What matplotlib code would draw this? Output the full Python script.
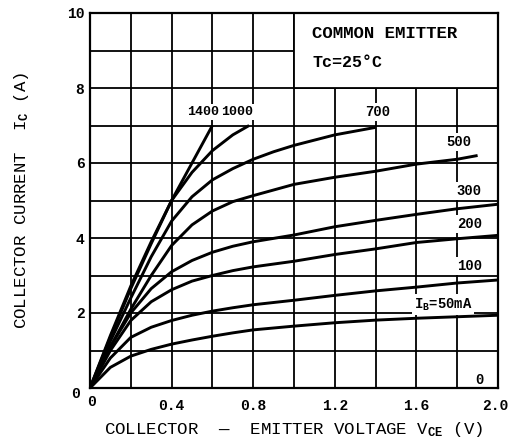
import matplotlib
matplotlib.use("Agg")
import matplotlib.pyplot as plt
import matplotlib.transforms as mtransforms
from matplotlib.patches import Rectangle

# ---- data ----
v_1400 = [0, 0.1, 0.2, 0.3, 0.4, 0.5, 0.6]
ic_1400 = [0, 1.35, 2.65, 3.85, 5.0, 6.0, 7.0]

v_1000 = [0, 0.1, 0.2, 0.3, 0.4, 0.5, 0.6, 0.7, 0.78]
ic_1000 = [0, 1.4, 2.72, 3.9, 5.0, 5.75, 6.33, 6.75, 7.0]

v_700 = [0, 0.1, 0.2, 0.3, 0.4, 0.5, 0.6, 0.7, 0.8, 0.9, 1.0, 1.2, 1.4]
ic_700 = [0, 1.25, 2.4, 3.5, 4.45, 5.1, 5.55, 5.85, 6.1, 6.3, 6.47, 6.75, 6.95]

v_500 = [0, 0.1, 0.2, 0.3, 0.4, 0.5, 0.6, 0.7, 0.8, 1.0, 1.2, 1.4, 1.6, 1.8, 1.9]
ic_500 = [0, 1.1, 2.1, 3.0, 3.8, 4.35, 4.72, 4.97, 5.13, 5.43, 5.62, 5.78, 5.97, 6.1, 6.2]

v_full = [0, 0.1, 0.2, 0.3, 0.4, 0.5, 0.6, 0.7, 0.8, 1.0, 1.2, 1.4, 1.6, 1.8, 2.0]
ic_300 = [0, 1.1, 2.0, 2.65, 3.1, 3.4, 3.62, 3.78, 3.9, 4.08, 4.3, 4.47, 4.63, 4.78, 4.9]
ic_200 = [0, 1.0, 1.8, 2.3, 2.62, 2.85, 3.0, 3.13, 3.23, 3.38, 3.56, 3.71, 3.88, 3.98, 4.07]
ic_100 = [0, 0.8, 1.35, 1.62, 1.8, 1.94, 2.05, 2.14, 2.22, 2.34, 2.47, 2.59, 2.69, 2.8, 2.88]
ic_50 = [0, 0.55, 0.85, 1.03, 1.17, 1.28, 1.38, 1.47, 1.55, 1.65, 1.74, 1.81, 1.86, 1.9, 1.94]

x_tick_vals = [0, 0.4, 0.8, 1.2, 1.6, 2.0]
x_tick_labels = ["0", "0.4", "0.8", "1.2", "1.6", "2.0"]
y_tick_vals = [0, 2, 4, 6, 8, 10]
y_tick_labels = ["0", "2", "4", "6", "8", "10"]

curve_labels = ["1400", "1000", "700", "500", "300", "200", "100", "I$_\\mathrm{B}$=50mA", "0"]
label_pos = [(0.555, 7.35), (0.72, 7.35), (1.41, 7.35), (1.81, 6.55), (1.86, 5.25),
             (1.86, 4.37), (1.86, 3.25), (1.73, 2.22), (1.91, 0.22)]

FONT = "Liberation Mono"
plt.rcParams["font.family"] = [FONT, "DejaVu Sans"]
plt.rcParams["font.weight"] = "bold"
plt.rcParams["mathtext.fontset"] = "custom"
plt.rcParams["mathtext.rm"] = FONT + ":bold"
plt.rcParams["mathtext.it"] = FONT + ":bold"
plt.rcParams["mathtext.bf"] = FONT + ":bold"

fig = plt.figure(figsize=(5.09, 4.46), dpi=100)
ax = fig.add_axes([90 / 509, 58 / 446, 408 / 509, 375 / 446])
ax.set_xlim(0, 2.0)
ax.set_ylim(0, 10)

# grid
gx = [i * 0.2 for i in range(11)]
gy = list(range(11))
ax.set_xticks(gx)
ax.set_yticks(gy)
ax.set_xticklabels([x_tick_labels[x_tick_vals.index(round(v, 1))] if round(v, 1) in x_tick_vals else "" for v in gx])
ax.set_yticklabels([y_tick_labels[y_tick_vals.index(v)] if v in y_tick_vals else "" for v in gy])
ax.tick_params(axis="x", length=0, labelsize=10.5, pad=8)
ax.tick_params(axis="y", length=0, labelsize=10.5, pad=4)
ax.grid(True, color="black", linewidth=1.3, zorder=1)
ax.set_axisbelow(True)
for s in ax.spines.values():
    s.set_linewidth(1.6)
    s.set_zorder(5)

# nudge last x tick label so it stays inside the figure, first labels as in reference
xl = ax.get_xticklabels()
xl[-1].set_transform(xl[-1].get_transform() + mtransforms.ScaledTranslation(-3 / 100, 0, fig.dpi_scale_trans))
yl = ax.get_yticklabels()
yl[0].set_transform(yl[0].get_transform() + mtransforms.ScaledTranslation(-5 / 100, -5 / 100, fig.dpi_scale_trans))
xl[0].set_transform(xl[0].get_transform() + mtransforms.ScaledTranslation(2 / 100, 4 / 100, fig.dpi_scale_trans))

# info box
ax.add_patch(Rectangle((1.0, 8.0), 1.0, 2.0, facecolor="white", edgecolor="black",
                       linewidth=1.3, zorder=2))
ax.text(1.09, 9.45, "COMMON EMITTER", fontsize=12.5, ha="left", va="center", zorder=3)
ax.text(1.09, 8.68, "Tc=25°C", fontsize=12, ha="left", va="center", zorder=3)

# curves
lw = 2.1
for vv, ii in [(v_1400, ic_1400), (v_1000, ic_1000), (v_700, ic_700), (v_500, ic_500),
               (v_full, ic_300), (v_full, ic_200), (v_full, ic_100), (v_full, ic_50)]:
    ax.plot(vv, ii, color="black", linewidth=lw, zorder=4, solid_capstyle="butt")

# curve labels
for txt, (px, py) in zip(curve_labels, label_pos):
    ax.text(px, py, txt, fontsize=9.5 if txt in ("1400", "1000") else 10,
            ha="center", va="center", zorder=3,
            bbox=dict(facecolor="white", edgecolor="none", pad=1.5))

ax.set_xlabel("COLLECTOR  —  EMITTER VOLTAGE V$_\\mathrm{CE}$ (V)", fontsize=12.5, labelpad=5)
ax.set_ylabel("COLLECTOR CURRENT  I$_\\mathrm{C}$ (A)", fontsize=12.5, labelpad=26)

fig.savefig("out.png", dpi=100)
